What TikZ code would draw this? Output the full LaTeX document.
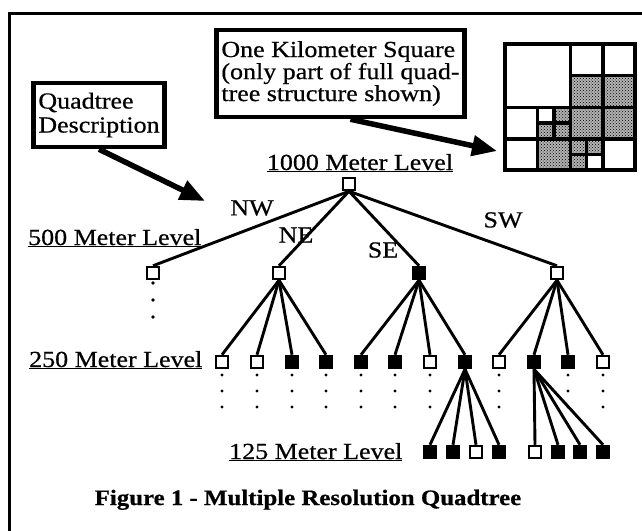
\documentclass[tikz,border=0pt]{standalone}
\usepackage{fontspec}
\setmainfont{Liberation Serif}[FakeStretch=1.13,FakeBold=0.6]
\usetikzlibrary{arrows.meta,patterns}

\tikzset{
  tn/.style={draw,line width=2.5pt,minimum size=12pt,inner sep=0pt},
  wn/.style={tn,fill=white},
  bn/.style={tn,fill=black},
  br/.style={line width=2.9pt},
  lbl/.style={inner sep=0pt,font=\fontsize{23}{20}\selectfont},
  callout/.style={draw,line width=4.5pt,align=left,inner xsep=5pt,font=\fontsize{23}{19.5}\selectfont},
  bigarrow/.style={line width=5.5pt,-{Triangle[length=25pt,width=20pt]}},
  cell/.style={draw,line width=3.4pt,fill=white},
  dotcell/.style={draw,line width=3.4pt,preaction={fill=black!30},pattern=crosshatch dots}
}

\begin{document}
\begin{tikzpicture}[x=1pt,y=-1pt]
	\useasboundingbox (0,0) rectangle (642,530);
	% frame
		\draw[line width=3pt] (9,540) -- (9,13) -- (650,13);
	% callouts
		\node[callout,minimum height=87pt] (kmbox) at (340.5,73.5) {One Kilometer Square\\(only part of full quad-\\tree structure shown)};
		\node[callout,minimum height=64pt,font=\fontsize{23}{24}\selectfont] (qdbox) at (99,115) {Quadtree\\Description};
		\coordinate (sqtip) at (497,151);
		\coordinate (treetip) at (205,201);
		\draw[bigarrow] ([xshift=10pt]kmbox.south) -- (sqtip);
		\draw[bigarrow] (qdbox.south) -- (treetip);
	% one kilometer square
		\begin{scope}[shift={(505,44)},x=16.3pt,y=-15.8pt]
			\foreach \x/\y/\s in {0/0/4,4/0/2,6/0/2,0/4/2,2/4/1,0/6/2,5/7/1,6/6/2}
				\draw[cell] (\x,\y) rectangle ++(\s,\s);
			\foreach \x/\y/\s in {4/2/2,6/2/2,3/4/1,2/5/1,3/5/1,2/6/2,4/4/2,6/4/2,4/6/1,5/6/1,4/7/1}
				\draw[dotcell] (\x,\y) rectangle ++(\s,\s);
			\draw[line width=4pt] (0,0) rectangle (8,8);
		\end{scope}
	% level labels
		\node[lbl,anchor=base] (l1000) at (360,170) {\underline{1000 Meter Level}};
		\node[lbl,anchor=base west] (l500) at (28,245) {\underline{500 Meter Level}};
		\node[lbl,anchor=base west] (l250) at (29,367) {\underline{250 Meter Level}};
		\node[lbl,anchor=base west] (l125) at (229,459) {\underline{125 Meter Level}};
	% quadrant labels
		\node[lbl] (nw) at (252,208) {NW};
		\node[lbl] (ne) at (296,235) {NE};
		\node[lbl] (se) at (383,250) {SE};
		\node[lbl] (sw) at (503,220) {SW};
	% tree nodes
		\node[wn] (r) at (349,184) {};
		\node[wn] (a1) at (153,273) {};
		\node[wn] (a2) at (279,273) {};
		\node[bn] (a3) at (419,273) {};
		\node[wn] (a4) at (557,273) {};
		\foreach \i/\x/\s in {1/222/wn,2/257/wn,3/292/bn,4/326/bn,5/361/bn,6/395/bn,7/430/wn,8/465/bn,9/499/wn,10/534/bn,11/568/bn,12/603/wn}
			\node[\s] (b\i) at (\x,362) {};
		\foreach \i/\x/\s in {1/430/bn,2/453/bn,3/476/wn,4/499/bn,5/535/wn,6/558/bn,7/580/bn,8/603/bn}
			\node[\s] (c\i) at (\x,452) {};
	% branches
		\foreach \j in {1,...,4} \draw[br] (r.south) -- (a\j.north);
		\foreach \j in {1,...,4} \draw[br] (a2.south) -- (b\j.north);
		\foreach \j in {5,...,8} \draw[br] (a3.south) -- (b\j.north);
		\foreach \j in {9,...,12} \draw[br] (a4.south) -- (b\j.north);
		\foreach \j in {1,...,4} \draw[br] (b8.south) -- (c\j.north);
		\foreach \j in {5,...,8} \draw[br] (b10.south) -- (c\j.north);
	% continuation dots
		\foreach \y in {283,300,317} \fill (153,\y) circle[radius=1.8pt];
		\foreach \x in {222,257,292,326,361,395,430,499,568,603}
			\foreach \y in {375,391,407} \fill (\x,\y) circle[radius=1.7pt];
	% caption
		\node[lbl,font=\fontsize{22}{22}\selectfont\bfseries,anchor=base] (cap) at (308,505) {Figure 1 - Multiple Resolution Quadtree};
\end{tikzpicture}
\end{document}
